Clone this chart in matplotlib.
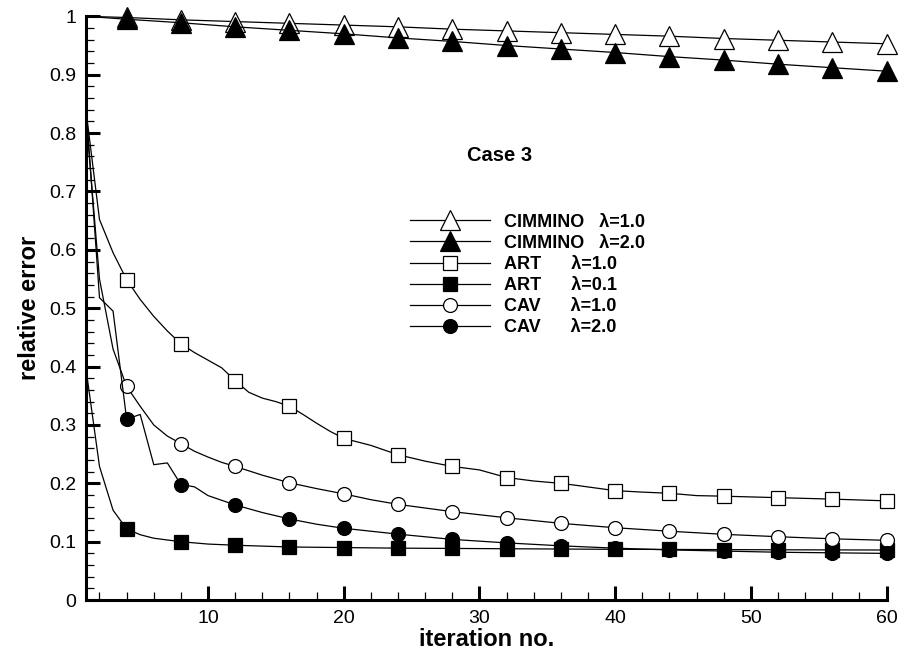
import matplotlib
matplotlib.use('Agg')
import matplotlib.pyplot as plt
from matplotlib.ticker import MultipleLocator, FuncFormatter

plt.rcParams['font.family'] = ['Liberation Sans', 'DejaVu Sans']

# iteration numbers where markers sit
marker_iters = [1, 4, 8, 12, 16, 20, 24, 28, 32, 36, 40, 44, 48, 52, 56, 60]

# CIMMINO
cim1_x = marker_iters
cim1_y = [1.000, 0.998, 0.994, 0.991, 0.988, 0.985, 0.982, 0.978, 0.975,
          0.972, 0.969, 0.966, 0.962, 0.959, 0.956, 0.953]
cim2_x = marker_iters
cim2_y = [1.000, 0.995, 0.989, 0.982, 0.976, 0.970, 0.963, 0.957, 0.950,
          0.944, 0.938, 0.931, 0.925, 0.918, 0.912, 0.906]

# ART lambda=1.0
art1_x = [1, 2, 3, 4, 5, 6, 7, 8, 9, 10, 11, 12, 13, 14, 15, 16, 17, 18, 19, 20,
          21, 22, 23, 24, 26, 28, 30, 32, 34, 36, 37, 40, 42, 44, 46, 48, 52, 56, 60]
art1_y = [0.840, 0.652, 0.595, 0.549, 0.515, 0.486, 0.461, 0.439, 0.424, 0.411,
          0.398, 0.376, 0.356, 0.346, 0.340, 0.332, 0.318, 0.303, 0.289, 0.277,
          0.271, 0.265, 0.257, 0.249, 0.238, 0.229, 0.223, 0.210, 0.204, 0.200,
          0.197, 0.1875, 0.185, 0.183, 0.179, 0.178, 0.1755, 0.173, 0.170]

# ART lambda=0.1
art2_x = [1, 2, 3, 4, 5, 6, 7, 8, 10, 12, 16, 20, 24, 28, 32, 36, 40, 44, 48, 52, 56, 60]
art2_y = [0.397, 0.229, 0.154, 0.122, 0.112, 0.106, 0.103, 0.100, 0.096, 0.094,
          0.091, 0.090, 0.089, 0.0885, 0.088, 0.0875, 0.087, 0.0868, 0.0865,
          0.0862, 0.086, 0.0858]

# CAV lambda=1.0
cav1_x = [1, 2, 3, 4, 5, 6, 7, 8, 9, 10, 11, 12, 14, 16, 18, 20, 22, 24, 28, 32,
          36, 40, 44, 48, 52, 56, 60]
cav1_y = [0.830, 0.550, 0.430, 0.366, 0.332, 0.300, 0.281, 0.268, 0.255, 0.245,
          0.236, 0.229, 0.214, 0.201, 0.191, 0.182, 0.172, 0.164, 0.1515, 0.141,
          0.1315, 0.124, 0.118, 0.1127, 0.1086, 0.105, 0.1024]

# CAV lambda=2.0
cav2_x = [1, 2, 3, 4, 5, 6, 7, 8, 9, 10, 11, 12, 14, 16, 18, 20, 22, 24, 28, 32,
          36, 40, 44, 48, 52, 56, 60]
cav2_y = [0.850, 0.518, 0.495, 0.310, 0.318, 0.232, 0.235, 0.198, 0.194, 0.179,
          0.171, 0.163, 0.150, 0.139, 0.130, 0.123, 0.118, 0.113, 0.104, 0.098,
          0.093, 0.089, 0.086, 0.084, 0.082, 0.081, 0.080]

series = [
    ('CIMMINO   \u03bb=1.0', cim1_x, cim1_y, '^', 'white', 15),
    ('CIMMINO   \u03bb=2.0', cim2_x, cim2_y, '^', 'black', 15),
    ('ART      \u03bb=1.0', art1_x, art1_y, 's', 'white', 10),
    ('ART      \u03bb=0.1', art2_x, art2_y, 's', 'black', 10),
    ('CAV      \u03bb=1.0', cav1_x, cav1_y, 'o', 'white', 10),
    ('CAV      \u03bb=2.0', cav2_x, cav2_y, 'o', 'black', 10),
]

fig = plt.figure(figsize=(9.14, 6.53), dpi=100)
ax = fig.add_axes([0.094, 0.081, 0.876, 0.894])

for label, xs, ys, mk, fc, ms in series:
    every = [i for i, v in enumerate(xs) if v % 4 == 0]
    ax.plot(xs, ys, color='black', lw=0.9, marker=mk, markersize=ms,
            markerfacecolor=fc, markeredgecolor='black', markeredgewidth=0.9,
            markevery=every, label=label, clip_on=False)

ax.set_xlim(1, 60)
ax.set_ylim(0, 1)
ax.xaxis.set_major_locator(MultipleLocator(10))
ax.xaxis.set_minor_locator(MultipleLocator(2))
ax.yaxis.set_major_locator(MultipleLocator(0.1))
ax.yaxis.set_minor_locator(MultipleLocator(0.02))
ax.yaxis.set_major_formatter(FuncFormatter(lambda v, p: '%g' % round(v, 2)))
ax.tick_params(which='major', direction='in', length=10, width=2.2,
               labelsize=14, pad=7)
ax.tick_params(which='minor', direction='in', length=6, width=0.9)
for s in ax.spines.values():
    s.set_linewidth(2.2)
ax.spines['top'].set_visible(False)
ax.spines['right'].set_visible(False)

ax.set_xlabel('iteration no.', fontsize=17, fontweight='bold', labelpad=1)
ax.set_ylabel('relative error', fontsize=17, fontweight='bold', labelpad=6)

ax.text(31.5, 0.762, 'Case 3', fontsize=14.5, fontweight='bold',
        ha='center', va='center')

leg = ax.legend(loc='upper left', bbox_to_anchor=(0.405, 0.662), frameon=False,
                prop={'size': 13, 'weight': 'bold'}, handlelength=4.4,
                handletextpad=0.8, labelspacing=0.23, borderpad=0,
                borderaxespad=0)

fig.savefig('out.png', dpi=100)
